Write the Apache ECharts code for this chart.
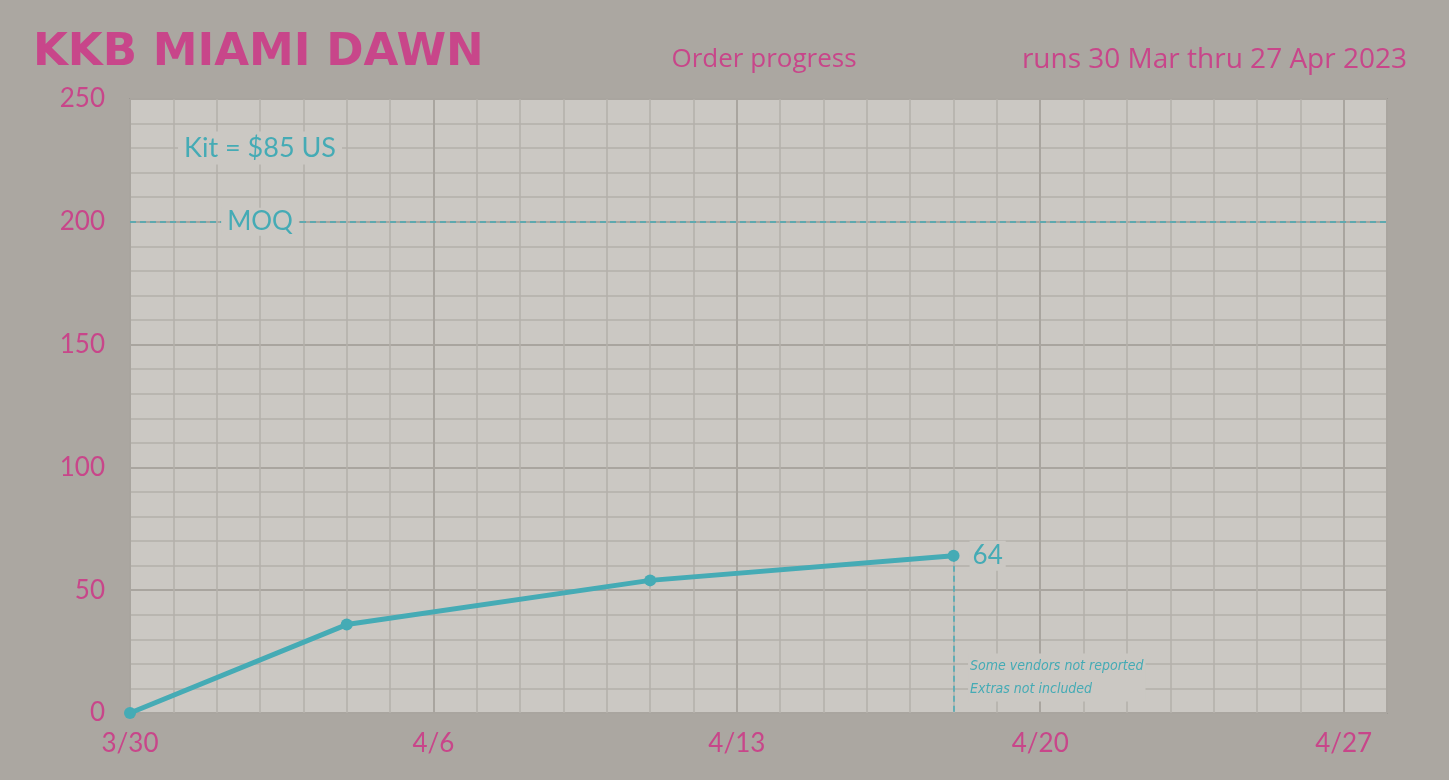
<!DOCTYPE html>
<html><head><meta charset="utf-8">
<script src="https://cdn.jsdelivr.net/npm/echarts@6/dist/echarts.min.js"></script>
<style>html,body{margin:0;padding:0;background:#aba7a1;}#c{width:1449px;height:780px;}</style>
</head><body><div id="c"></div>
<script>
const dates = ['2023-03-30', '2023-04-04', '2023-04-11', '2023-04-18'];
const orders = [0, 36, 54, 64];
const moq = 200;
const yTicks = [0, 50, 100, 150, 200, 250];
const titleText = 'KKB MIAMI DAWN';
const subtitleText = 'Order progress';
const runsText = 'runs 30 Mar thru 27 Apr 2023';
const kitText = 'Kit = $85 US';
const noteLines = ['Some vendors not reported', 'Extras not included'];
const axisStart = '2023-03-30', axisEnd = '2023-04-28';
const kitAt = ['2023-04-02', 230];
const moqLabelAt = '2023-04-02';
const noteAt = 14.5;

const DAY = 86400000;
const t = s => Date.parse(s + 'T00:00:00Z');
const pink = '#c8468a', teal = '#45abb5';
const plotBg = '#cbc8c3';
const last = orders.length - 1;

const lineData = dates.map((d, i) => {
  const item = {value: [t(d), orders[i]]};
  if (i === last) {
    item.label = {show: true, position: 'right', distance: 10, color: teal, fontSize: 26, fontFamily: 'Lato',
      backgroundColor: plotBg, padding: [2, 3], formatter: String(orders[i])};
  }
  return item;
});

const chart = echarts.init(document.getElementById('c'));
chart.setOption({
  backgroundColor: '#aba7a1',
  animation: false,
  title: [
    {text: titleText, left: 28, top: 26, textStyle: {color: pink, fontSize: 45, fontWeight: 'bold', fontFamily: 'DejaVu Sans'}},
    {text: subtitleText, left: 759, textAlign: 'center', top: 42, textStyle: {color: pink, fontSize: 26, fontWeight: 'normal', fontFamily: 'Open Sans'}},
    {text: runsText, right: 37, top: 41, textStyle: {color: pink, fontSize: 28, fontWeight: 'normal', fontFamily: 'Open Sans'}}
  ],
  grid: {left: 130, right: 62, top: 99, bottom: 67, show: true, backgroundColor: plotBg, borderColor: '#9c9893', borderWidth: 2},
  xAxis: {
    type: 'value', min: t(axisStart), max: t(axisEnd), interval: 7 * DAY,
    axisLine: {show: false}, axisTick: {show: false},
    axisLabel: {color: pink, fontSize: 26, fontFamily: 'Lato', margin: 18,
      formatter: v => { const d = new Date(v); return (d.getUTCMonth() + 1) + '/' + d.getUTCDate(); },
      showMaxLabel: false},
    splitLine: {show: true, lineStyle: {color: '#a9a59f', width: 2}},
    minorTick: {show: false, splitNumber: 7},
    minorSplitLine: {show: true, lineStyle: {color: '#b4b0ab', width: 1.5}}
  },
  yAxis: {
    type: 'value', min: yTicks[0], max: yTicks[yTicks.length - 1], interval: yTicks[1] - yTicks[0],
    axisLine: {show: false}, axisTick: {show: false},
    axisLabel: {color: pink, fontSize: 26, fontFamily: 'Lato', margin: 25},
    splitLine: {show: true, lineStyle: {color: '#a9a59f', width: 2}},
    minorTick: {show: false, splitNumber: 5},
    minorSplitLine: {show: true, lineStyle: {color: '#b4b0ab', width: 1.5}}
  },
  series: [{
    type: 'line',
    data: lineData,
    symbol: 'circle', symbolSize: 12,
    lineStyle: {color: teal, width: 5},
    itemStyle: {color: teal},
    label: {show: false},
    markLine: {
      silent: true, symbol: 'none',
      data: [
        [{coord: [t(axisStart), moq]}, {coord: [t(axisEnd), moq]}],
        [{coord: [t(dates[last]), orders[last]]}, {coord: [t(dates[last]), 0]}]
      ],
      lineStyle: {color: teal, type: [6, 4], width: 1.5},
      label: {show: false}
    },
    markPoint: {
      silent: true, symbol: 'rect', symbolSize: 1,
      itemStyle: {color: 'rgba(0,0,0,0)'},
      data: [
        {coord: [t(moqLabelAt), moq], label: {show: true, formatter: 'MOQ', color: teal, fontSize: 26, fontFamily: 'Lato', backgroundColor: plotBg, padding: [1, 6], position: 'inside'}},
        {coord: [t(kitAt[0]), kitAt[1]], label: {show: true, formatter: kitText, color: teal, fontSize: 27, fontFamily: 'Lato', backgroundColor: plotBg, padding: [3, 6], position: 'inside'}},
        {coord: [t(dates[last]), noteAt], label: {show: true, formatter: noteLines.join('\n'), color: teal, fontSize: 14, fontStyle: 'italic', fontFamily: 'DejaVu Sans Condensed', lineHeight: 23, backgroundColor: plotBg, padding: [1, 2], position: 'right', distance: 14, align: 'left'}}
      ]
    }
  }]
});
</script></body></html>
